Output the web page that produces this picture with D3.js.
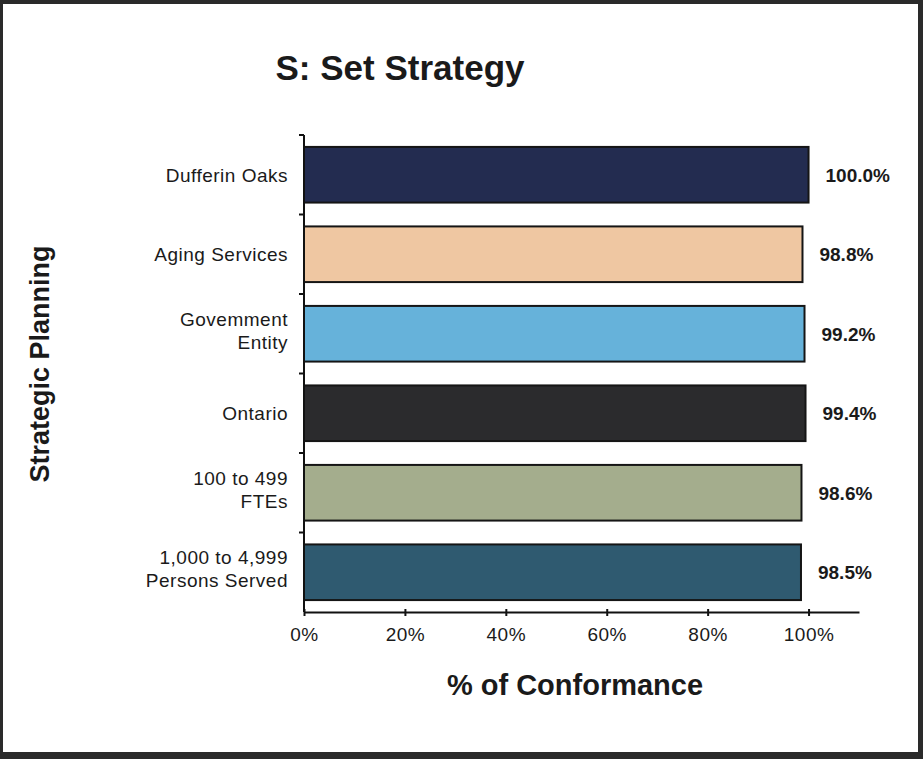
<!DOCTYPE html>
<html>
<head>
<meta charset="utf-8">
<script src="https://cdn.jsdelivr.net/npm/d3@7"></script>
<style>
  html, body { margin: 0; padding: 0; background: #fff; }
  svg { display: block; }
  text { font-family: "Liberation Sans", Arial, sans-serif; fill: #1a1a1a; }
</style>
</head>
<body>
<svg id="chart" width="923" height="759"></svg>
<script>
// ---- data ----
const categories = [
  ["Dufferin Oaks"],
  ["Aging Services"],
  ["Govemment", "Entity"],
  ["Ontario"],
  ["100 to 499", "FTEs"],
  ["1,000 to 4,999", "Persons Served"]
];
const values = [1.000, 0.988, 0.992, 0.994, 0.986, 0.985];
const valueLabels = ["100.0%", "98.8%", "99.2%", "99.4%", "98.6%", "98.5%"];
const barColors = ["#232c50", "#efc7a2", "#66b2da", "#2b2b2d", "#a4ad8d", "#2f5a70"];
const tickValues = [0, 0.2, 0.4, 0.6, 0.8, 1.0];
const tickLabels = ["0%", "20%", "40%", "60%", "80%", "100%"];
const chartTitle = "S: Set Strategy";
const xTitle = "% of Conformance";
const yTitle = "Strategic Planning";

// ---- drawing ----
(function () {
const svg = d3.select("#chart");
const W = 923, H = 759;

// frame
svg.append("rect").attr("x", 0).attr("y", 0).attr("width", W).attr("height", H).attr("fill", "#2a2a2a");
svg.append("rect").attr("x", 3).attr("y", 4).attr("width", 915).attr("height", 748).attr("fill", "#ffffff");

const pLeft = 304, pTop = 135, pBottom = 612;
const x = d3.scaleLinear().domain([0, 1.1]).range([pLeft, 859]);
const idx = d3.range(categories.length);
const y = d3.scaleBand().domain(idx).range([pTop, pBottom]).paddingInner(0.3).paddingOuter(0.15);

// title
svg.append("text").attr("x", 400).attr("y", 80).attr("text-anchor", "middle")
  .attr("font-size", 35).attr("font-weight", "bold").text(chartTitle);

// bars
svg.append("g").selectAll("rect").data(idx).join("rect")
  .attr("x", x(0))
  .attr("y", i => y(i))
  .attr("width", i => x(values[i]) - x(0))
  .attr("height", y.bandwidth())
  .attr("fill", i => barColors[i])
  .attr("stroke", "#151515")
  .attr("stroke-width", 2);

// value labels
svg.append("g").selectAll("text").data(idx).join("text")
  .attr("x", i => x(values[i]) + 17)
  .attr("y", i => y(i) + y.bandwidth() / 2 + 7)
  .attr("font-size", 19).attr("font-weight", "bold")
  .text(i => valueLabels[i]);

// y axis line + ticks at band boundaries
const yAxisG = svg.append("g");
yAxisG.append("line").attr("x1", pLeft).attr("x2", pLeft).attr("y1", pTop).attr("y2", pBottom)
  .attr("stroke", "#111").attr("stroke-width", 2);
const bandH = (pBottom - pTop) / categories.length;
yAxisG.selectAll("line.tk").data(idx).join("line")
  .attr("class", "tk")
  .attr("x1", pLeft - 5).attr("x2", pLeft)
  .attr("y1", i => pTop + i * bandH)
  .attr("y2", i => pTop + i * bandH)
  .attr("stroke", "#111").attr("stroke-width", 2);

// category labels
const catG = svg.append("g");
idx.forEach(i => {
  const lines = categories[i];
  const cy = y(i) + y.bandwidth() / 2;
  const t = catG.append("text").attr("text-anchor", "end").attr("font-size", 19)
    .attr("letter-spacing", 0.5);
  lines.forEach((ln, k) => {
    const base = lines.length === 1 ? cy + 7 : cy - 8 + k * 23;
    t.append("tspan").attr("x", 288).attr("y", base).text(ln);
  });
});

// x axis
const xAxis = d3.axisBottom(x).tickValues(tickValues).tickFormat((d, i) => tickLabels[i])
  .tickSizeInner(4).tickSizeOuter(0).tickPadding(12);
const xg = svg.append("g").attr("transform", `translate(0,${pBottom})`).call(xAxis);
xg.select(".domain").attr("stroke", "#111").attr("stroke-width", 2);
xg.selectAll(".tick line").attr("stroke", "#111").attr("stroke-width", 2).attr("y1", -3);
xg.selectAll(".tick text").attr("font-size", 19).attr("fill", "#1a1a1a")
  .attr("letter-spacing", 0.5)
  .style("font-family", '"Liberation Sans", Arial, sans-serif');

// axis titles
svg.append("text").attr("x", 575).attr("y", 695).attr("text-anchor", "middle")
  .attr("font-size", 29).attr("font-weight", "bold").text(xTitle);
svg.append("text").attr("transform", "translate(49,364) rotate(-90)").attr("text-anchor", "middle")
  .attr("font-size", 27).attr("font-weight", "bold").text(yTitle);
})();
</script>
</body>
</html>
